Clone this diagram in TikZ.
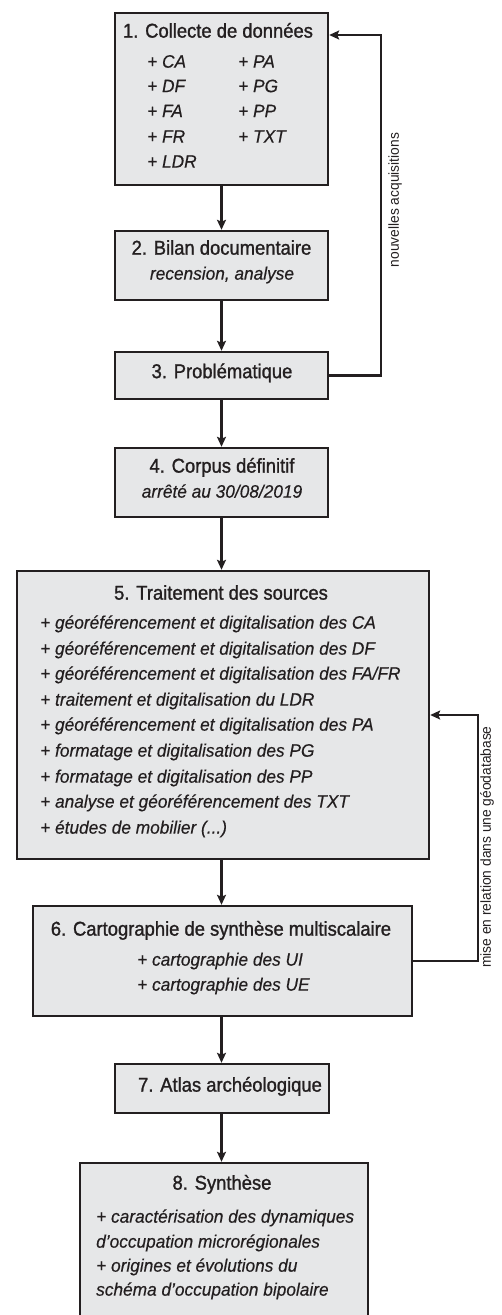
\documentclass[tikz,border=0pt]{standalone}
\usepackage{fontspec}
\setmainfont{Liberation Sans}
\newfontfamily\titlefont{Liberation Sans}[FakeStretch=0.92,FakeBold=1.2]
\newfontfamily\itemfont{Liberation Sans Italic}[FakeStretch=0.96,FakeBold=0.4]
\newfontfamily\labelfont{Liberation Sans}[FakeStretch=0.95]
\usetikzlibrary{arrows.meta}
\definecolor{ink}{HTML}{231F20}
\definecolor{boxfill}{HTML}{E6E7E8}
\begin{document}
\begin{tikzpicture}[x=1pt,y=-1pt,
  box/.style={draw=ink, fill=boxfill, line width=2.4pt, inner sep=0pt},
  ttl/.style={font=\titlefont\fontsize{20}{23}\selectfont, text=ink, inner sep=0pt, anchor=mid},
  itm/.style={font=\itemfont\fontsize{18}{21}\selectfont, text=ink, inner sep=0pt, anchor=mid west},
  itmc/.style={font=\itemfont\fontsize{18}{21}\selectfont, text=ink, inner sep=0pt, anchor=mid},
  arr/.style={draw=ink, line width=2.4pt, -{Stealth[length=10pt,width=9pt,inset=2pt]}},
  lbl/.style={font=\labelfont\fontsize{14.5}{16}\selectfont, text=ink, rotate=90, inner sep=0pt, anchor=center}]
\useasboundingbox (0,0) rectangle (501,1315);

% boxes
\node[box, minimum width=213pt, minimum height=172pt] (b1) at (221.5,99) {};
\node[box, minimum width=213pt, minimum height=69pt] (b2) at (221.5,265.5) {};
\node[box, minimum width=213pt, minimum height=47pt] (b3) at (221.5,375.5) {};
\node[box, minimum width=213pt, minimum height=69pt] (b4) at (221.5,482.5) {};
\node[box, minimum width=412pt, minimum height=288pt] (b5) at (223,715) {};
\node[box, minimum width=379pt, minimum height=110pt] (b6) at (222.5,961) {};
\node[box, minimum width=214pt, minimum height=49pt] (b7) at (222,1088.5) {};
\node[box, minimum width=288pt, minimum height=155pt] (b8) at (224,1240.5) {};

% box 1 texts
\node[ttl] (t1) at (218,35) {1. Collecte de données};
\node[itm] (i1a) at (147,65) {+ CA};
\node[itm] (i1b) at (147,89.5) {+ DF};
\node[itm] (i1c) at (147,114.5) {+ FA};
\node[itm] (i1d) at (147,140) {+ FR};
\node[itm] (i1e) at (147,165) {+ LDR};
\node[itm] (i1f) at (238,65) {+ PA};
\node[itm] (i1g) at (238,89.5) {+ PG};
\node[itm] (i1h) at (238,114.5) {+ PP};
\node[itm] (i1i) at (238,140) {+ TXT};

% box 2
\node[ttl] (t2) at (221.5,252) {2. Bilan documentaire};
\node[itmc] (s2) at (222,277) {recension, analyse};
% box 3
\node[ttl] (t3) at (222,375.5) {3. Problématique};
% box 4
\node[ttl] (t4) at (222,470) {4. Corpus définitif};
\node[itmc] (s4) at (222,495) {arrêté au 30/08/2019};
% box 5
\node[ttl] (t5) at (221,597) {5. Traitement des sources};
\node[itm] (i5a) at (40,626) {+ géoréférencement et digitalisation des CA};
\node[itm] (i5b) at (40,652) {+ géoréférencement et digitalisation des DF};
\node[itm] (i5c) at (40,677) {+ géoréférencement et digitalisation des FA/FR};
\node[itm] (i5d) at (40,703) {+ traitement et digitalisation du LDR};
\node[itm] (i5e) at (40,728) {+ géoréférencement et digitalisation des PA};
\node[itm] (i5f) at (40,754) {+ formatage et digitalisation des PG};
\node[itm] (i5g) at (40,780) {+ formatage et digitalisation des PP};
\node[itm] (i5h) at (40,805) {+ analyse et géoréférencement des TXT};
\node[itm] (i5i) at (40,831) {+ études de mobilier (...)};
% box 6
\node[ttl] (t6) at (221,933) {6. Cartographie de synthèse multiscalaire};
\node[itm] (i6a) at (137,963) {+ cartographie des UI};
\node[itm] (i6b) at (137,988) {+ cartographie des UE};
% box 7
\node[ttl] (t7) at (230,1089) {7. Atlas archéologique};
% box 8
\node[ttl] (t8) at (222,1187) {8. Synthèse};
\node[itm] (i8a) at (96,1220) {+ caractérisation des dynamiques};
\node[itm] (i8b) at (96,1245) {d’occupation microrégionales};
\node[itm] (i8c) at (96,1269) {+ origines et évolutions du};
\node[itm] (i8d) at (96,1293) {schéma d’occupation bipolaire};

% main flow
\draw[arr] (b1.south) -- (b2.north);
\draw[arr] (b2.south) -- (b3.north);
\draw[arr] (b3.south) -- (b4.north);
\draw[arr] (b4.south) -- (b4.south |- b5.north);
\draw[arr] (b4.south |- b5.south) -- (b4.south |- b6.north);
\draw[arr] (b4.south |- b6.south) -- (b4.south |- b7.north);
\draw[arr] (b4.south |- b7.south) -- (b4.south |- b8.north);

% feedback loops
\coordinate (fb1) at (381,35);
\draw[arr] (b3.east) -| (fb1) -- (b1.east |- fb1);
\node[lbl] (l1) at (395,200) {nouvelles acquisitions};

\coordinate (fb2) at (478,715);
\draw[arr] (b6.east) -| (fb2) -- (b5.east |- fb2);
\node[lbl] (l2) at (487,847) {mise en relation dans une géodatabase};
\end{tikzpicture}
\end{document}
